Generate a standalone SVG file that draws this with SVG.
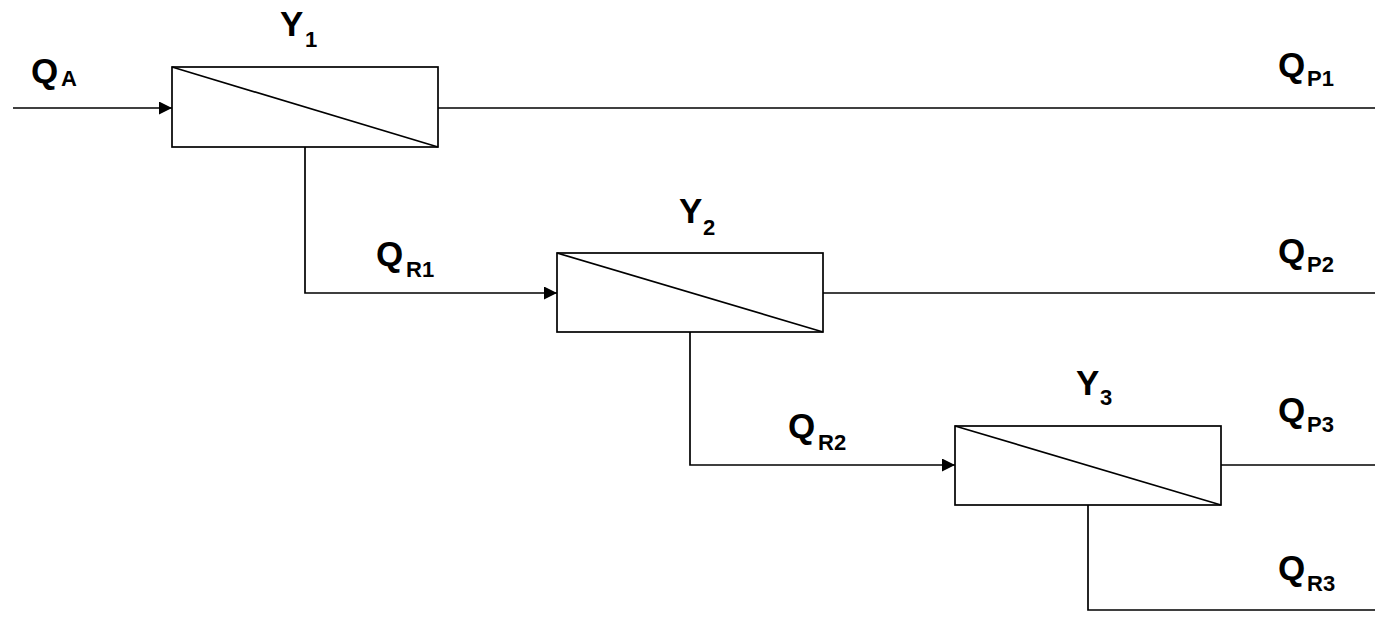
<svg xmlns="http://www.w3.org/2000/svg" width="1375" height="618" viewBox="0 0 1375 618">
<style>
.ln{stroke:#000;stroke-width:1.7;fill:none}
.box{stroke:#000;stroke-width:1.7;fill:none}
.t{font-family:"Liberation Sans",Arial,sans-serif;font-weight:bold;fill:#000}
.big{font-size:35px}
.sub{font-size:22px}
</style>
<defs>
<marker id="arr" viewBox="0 0 13 13" refX="13" refY="6.5" markerWidth="13" markerHeight="13" markerUnits="userSpaceOnUse" orient="auto">
<path d="M0,0 L13,6.5 L0,13 Z" fill="#000"/>
</marker>
</defs>
<rect width="1375" height="618" fill="#fff"/>
<g id="connectors">
<line class="ln" x1="13" y1="108" x2="172" y2="108" marker-end="url(#arr)"/>
<line class="ln" x1="438" y1="108" x2="1375" y2="108"/>
<polyline class="ln" points="305,147 305,293 557,293" marker-end="url(#arr)"/>
<line class="ln" x1="823" y1="293" x2="1375" y2="293"/>
<polyline class="ln" points="690,332 690,465 955,465" marker-end="url(#arr)"/>
<line class="ln" x1="1221" y1="465" x2="1375" y2="465"/>
<polyline class="ln" points="1088,505 1088,610 1375,610"/>
</g>
<g id="node-y1">
<rect class="box" x="172" y="67" width="266" height="80"/>
<line class="ln" x1="172" y1="67" x2="438" y2="147"/>
<text class="t big" x="280" y="36">Y</text><text class="t sub" x="305" y="47">1</text>
</g>
<g id="node-y2">
<rect class="box" x="557" y="253" width="266" height="79"/>
<line class="ln" x1="557" y1="253" x2="823" y2="332"/>
<text class="t big" x="679" y="223">Y</text><text class="t sub" x="703" y="235">2</text>
</g>
<g id="node-y3">
<rect class="box" x="955" y="426" width="266" height="79"/>
<line class="ln" x1="955" y1="426" x2="1221" y2="505"/>
<text class="t big" x="1076" y="395">Y</text><text class="t sub" x="1100" y="405">3</text>
</g>
<g id="labels">
<text class="t big" x="31" y="83">Q</text><text class="t sub" x="61" y="86">A</text>
<text class="t big" x="1278" y="77">Q</text><text class="t sub" x="1307" y="86">P1</text>
<text class="t big" x="1278" y="263">Q</text><text class="t sub" x="1307" y="272">P2</text>
<text class="t big" x="1278" y="422">Q</text><text class="t sub" x="1307" y="432">P3</text>
<text class="t big" x="1278" y="580">Q</text><text class="t sub" x="1307" y="591">R3</text>
<text class="t big" x="376" y="266">Q</text><text class="t sub" x="406" y="277">R1</text>
<text class="t big" x="788" y="438">Q</text><text class="t sub" x="818" y="450">R2</text>
</g>
</svg>
